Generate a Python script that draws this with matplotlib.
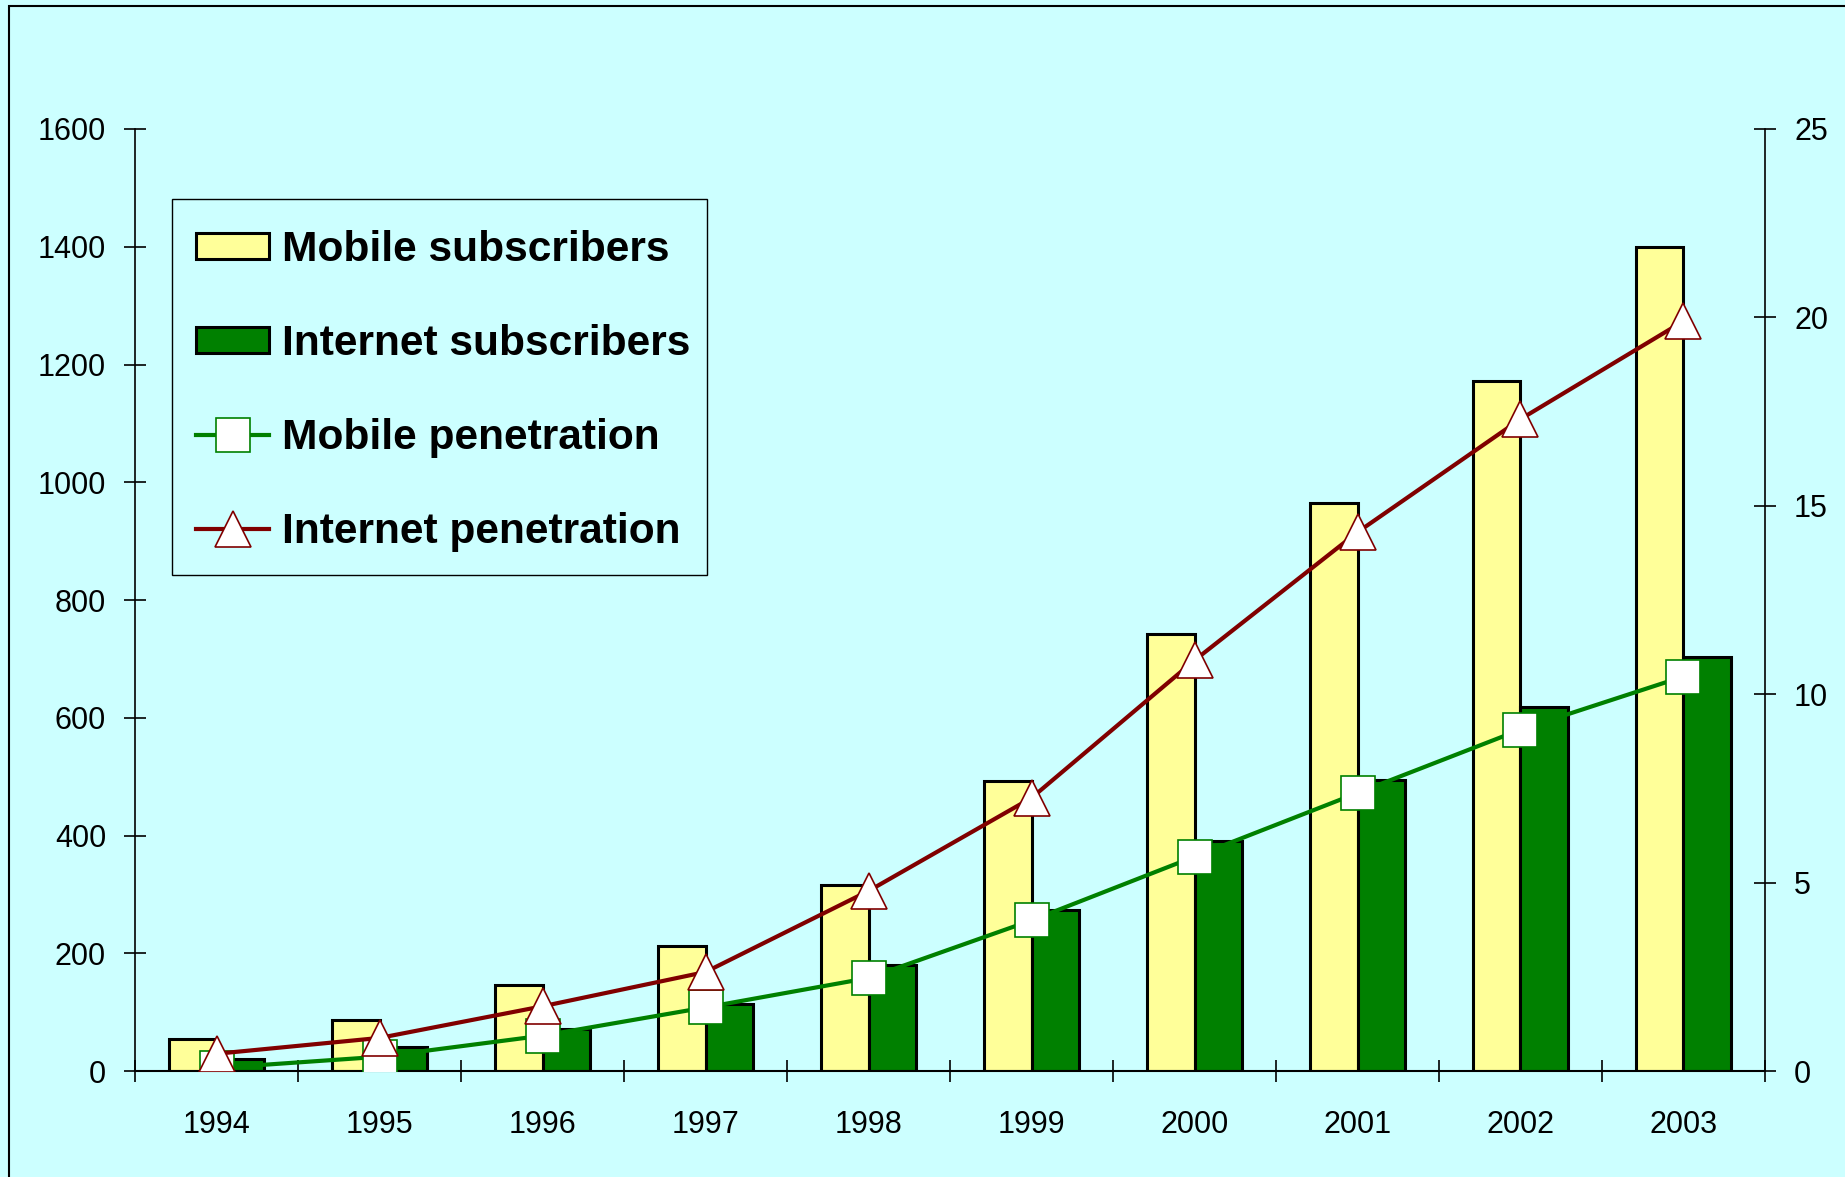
import numpy as np
import matplotlib
matplotlib.use("Agg")
import matplotlib.pyplot as plt
from matplotlib.patches import Rectangle

years = ["1994", "1995", "1996", "1997", "1998", "1999", "2000", "2001", "2002", "2003"]
mobile_subs = [54, 87, 146, 212, 316, 492, 742, 964, 1172, 1400]
internet_subs = [20, 41, 72, 114, 180, 274, 390, 494, 618, 704]
mobile_pen = [0.08, 0.38, 0.94, 1.69, 2.47, 4.0, 5.69, 7.38, 9.06, 10.47]
internet_pen = [0.46, 0.88, 1.72, 2.63, 4.78, 7.25, 10.9, 14.3, 17.3, 19.9]

BG = "#CCFFFF"
YELLOW = "#FFFF99"
GREEN = "#008000"
DARKRED = "#800000"

plt.rcParams["font.family"] = ["Liberation Sans", "DejaVu Sans"]

fig = plt.figure(figsize=(18.45, 11.77), dpi=100, facecolor=BG)
ax = fig.add_axes([0.0733, 0.0900, 0.8833, 0.8004])
ax.set_facecolor(BG)

# outer frame, only left and top edges fall inside the canvas
fig.patches.append(Rectangle((9 / 1845, -0.2), 1.5, 1.2 - 6 / 1177,
                             transform=fig.transFigure, fill=False,
                             edgecolor="black", linewidth=1.5, zorder=0))

x = np.arange(len(years))
w = 0.29
ax.bar(x - w / 2, mobile_subs, width=w, color=YELLOW, edgecolor="black",
       linewidth=2.2, zorder=2, label="Mobile subscribers")
ax.bar(x + w / 2, internet_subs, width=w, color=GREEN, edgecolor="black",
       linewidth=2.2, zorder=2, label="Internet subscribers")

ax.set_xlim(-0.5, len(years) - 0.5)
ax.set_ylim(0, 1600)
ax.set_yticks(np.arange(0, 1601, 200))
ax.set_xticks(np.arange(-0.5, len(years), 1.0))
ax.set_xticklabels([])
ax.set_xticks(x, minor=True)
ax.set_xticklabels(years, minor=True)
ax.tick_params(axis="x", which="major", direction="inout", length=16, width=1.2)
ax.tick_params(axis="x", which="minor", length=0, pad=28, labelsize=22)
ax.tick_params(axis="y", direction="inout", length=16, width=1.2, pad=13, labelsize=22)
for s in ["top", "right"]:
    ax.spines[s].set_visible(False)
ax.spines["left"].set_linewidth(1.2)
ax.spines["bottom"].set_linewidth(1.5)

ax2 = ax.twinx()
ax2.set_ylim(0, 25)
ax2.set_yticks(np.arange(0, 26, 5))
ax2.tick_params(axis="y", direction="inout", length=16, width=1.2, pad=13, labelsize=22)
for s in ["top", "left", "bottom"]:
    ax2.spines[s].set_visible(False)
ax2.spines["right"].set_linewidth(1.2)

ax2.plot(x, mobile_pen, color=GREEN, linewidth=3, marker="s", markersize=25,
         markerfacecolor="white", markeredgecolor=GREEN, markeredgewidth=1.2,
         zorder=3, label="Mobile penetration")
ax2.plot(x, internet_pen, color=DARKRED, linewidth=3, marker="^", markersize=26,
         markerfacecolor="white", markeredgecolor=DARKRED, markeredgewidth=1.2,
         zorder=4, label="Internet penetration")

# legend box drawn separately so the entries can sit a little lower inside it
ax2.add_patch(Rectangle((0.0227, 0.5265), 0.3282, 0.3992, transform=ax2.transAxes,
                        facecolor=BG, edgecolor="black", linewidth=1.0, zorder=5))

h1, l1 = ax.get_legend_handles_labels()
h2, l2 = ax2.get_legend_handles_labels()
leg = ax2.legend(h1 + h2, l1 + l2, loc="upper left", bbox_to_anchor=(0.0227, 0.918),
                 borderaxespad=0, frameon=False, numpoints=1,
                 prop={"weight": "bold", "size": 30.6}, borderpad=0.56,
                 labelspacing=1.27, handlelength=1.72, handleheight=0.57,
                 handletextpad=0.3)
leg.set_zorder(6)

fig.savefig("out.png", dpi=100, facecolor=BG)
